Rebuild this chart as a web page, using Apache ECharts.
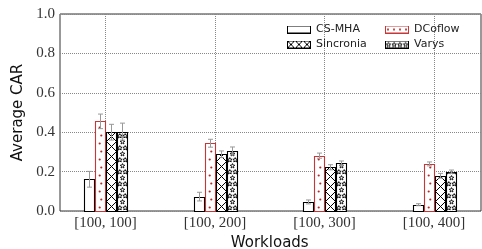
<!DOCTYPE html>
<html>
<head>
<meta charset="utf-8">
<script src="https://cdn.jsdelivr.net/npm/echarts@6/dist/echarts.min.js"></script>
<style>
html, body { margin: 0; padding: 0; background: #fff; }
#main { width: 482px; height: 249px; }
</style>
</head>
<body>
<div id="main"></div>
<script>
// data
var categories = ['[100, 100]', '[100, 200]', '[100, 300]', '[100, 400]'];
var seriesNames = ['CS-MHA', 'DCoflow', 'Sincronia', 'Varys'];
var csmha = [0.161, 0.073, 0.046, 0.032];
var csmhaErr = [0.040, 0.022, 0.010, 0.005];
var dcoflow = [0.455, 0.344, 0.281, 0.239];
var dcoflowErr = [0.037, 0.020, 0.013, 0.010];
var sincronia = [0.400, 0.288, 0.222, 0.179];
var sincroniaErr = [0.040, 0.017, 0.013, 0.012];
var varys = [0.403, 0.305, 0.242, 0.200];
var varysErr = [0.043, 0.020, 0.012, 0.008];

var BAR_W = 10;
var RED = '#c83737';

function toData(vals, errs) {
    var out = [];
    for (var i = 0; i < vals.length; i++) out.push([i, vals[i], errs[i]]);
    return out;
}

function starPoints(cx, cy, r1, r2) {
    var pts = [];
    for (var k = 0; k < 10; k++) {
        var r = k % 2 === 0 ? r1 : r2;
        var a = -Math.PI / 2 + k * Math.PI / 5;
        pts.push([cx + r * Math.cos(a), cy + r * Math.sin(a)]);
    }
    return pts;
}

// hatch elements for a box
function hatch(kind, L, T, W, B) {
    var els = [];
    if (kind === 'x') {
        for (var y0 = B; y0 > T - W; y0 -= W) {
            els.push({type: 'line', shape: {x1: L, y1: y0, x2: L + W, y2: y0 - W}, style: {stroke: '#000', lineWidth: 1}});
            els.push({type: 'line', shape: {x1: L, y1: y0 - W, x2: L + W, y2: y0}, style: {stroke: '#000', lineWidth: 1}});
        }
    } else if (kind === 'dot') {
        var n = 0;
        for (var y = B - 4; y > T; y -= 8) {
            els.push({type: 'circle', shape: {cx: L + W / 2 + (n % 2 ? 0.8 : -0.8), cy: y, r: 1.1}, style: {fill: '#b82525'}});
            n++;
        }
    } else if (kind === 'star') {
        var m = 0;
        for (var ys = B - 3.5; ys > T - 3; ys -= 6) {
            var xs = m % 2 ? [L + W / 2] : [L + 2.3, L + W - 2.3];
            for (var j = 0; j < xs.length; j++) {
                els.push({type: 'polygon', shape: {points: starPoints(xs[j], ys, 2.4, 1.1)},
                    style: {fill: '#fff', stroke: '#000', lineWidth: 0.9}});
            }
            m++;
        }
    }
    return els;
}

function makeRender(offset, kind, stroke) {
    return function (params, api) {
        var x = api.value(0), v = api.value(1), e = api.value(2);
        var base = api.coord([x, 0]);
        var top = api.coord([x, v]);
        var L = Math.round(base[0] + offset - BAR_W / 2) + 0.5;
        var B = Math.round(base[1]) + 0.5;
        var T = Math.round(top[1]) + 0.5;
        var box = {x: L, y: T, width: BAR_W, height: B - T};
        var children = [
            {type: 'rect', shape: box, style: {fill: '#fff', stroke: null}},
            {type: 'group', children: hatch(kind, L, T, BAR_W, B), clipPath: {type: 'rect', shape: box}},
            {type: 'rect', shape: box, style: {fill: null, stroke: stroke, lineWidth: 1.1}}
        ];
        var cx = Math.round(L + BAR_W / 2) - 0.5;
        var eT = api.coord([x, v + e])[1], eB = api.coord([x, v - e])[1];
        var ec = '#999';
        children.push({type: 'line', shape: {x1: cx, y1: eT, x2: cx, y2: eB}, style: {stroke: ec, lineWidth: 1}});
        children.push({type: 'line', shape: {x1: cx - 2.5, y1: eT, x2: cx + 2.5, y2: eT}, style: {stroke: ec, lineWidth: 1}});
        children.push({type: 'line', shape: {x1: cx - 2.5, y1: eB, x2: cx + 2.5, y2: eB}, style: {stroke: ec, lineWidth: 1}});
        return {type: 'group', children: children};
    };
}

// legend icons drawn on small canvases
function legendIcon(kind, stroke) {
    var c = document.createElement('canvas');
    c.width = 24; c.height = 8;
    var g = c.getContext('2d');
    g.fillStyle = '#fff';
    g.fillRect(0, 0, 24, 8);
    g.save();
    g.beginPath(); g.rect(0.5, 0.5, 23, 7); g.clip();
    if (kind === 'x') {
        g.strokeStyle = '#000'; g.lineWidth = 1;
        for (var x = 0; x < 24; x += 8) {
            g.beginPath(); g.moveTo(x, 0); g.lineTo(x + 8, 8); g.moveTo(x, 8); g.lineTo(x + 8, 0); g.stroke();
        }
    } else if (kind === 'dot') {
        g.fillStyle = '#b82525';
        for (var xd = 3; xd < 24; xd += 6) { g.beginPath(); g.arc(xd, 4, 1.1, 0, Math.PI * 2); g.fill(); }
    } else if (kind === 'star') {
        g.strokeStyle = '#000'; g.fillStyle = '#fff'; g.lineWidth = 0.9;
        for (var xs = 3.5; xs < 24; xs += 5.7) {
            var p = starPoints(xs, 4.3, 2.4, 1.1);
            g.beginPath(); g.moveTo(p[0][0], p[0][1]);
            for (var k = 1; k < p.length; k++) g.lineTo(p[k][0], p[k][1]);
            g.closePath(); g.fill(); g.stroke();
        }
    }
    g.restore();
    g.strokeStyle = stroke; g.lineWidth = 1;
    g.strokeRect(0.5, 0.5, 23, 7);
    return 'image://' + c.toDataURL();
}

var kinds = ['none', 'dot', 'x', 'star'];
var strokes = ['#000', RED, '#000', '#000'];
var offsets = [-16.5, -5.5, 5.5, 16.5];
var values = [toData(csmha, csmhaErr), toData(dcoflow, dcoflowErr), toData(sincronia, sincroniaErr), toData(varys, varysErr)];
var icons = [];
for (var i = 0; i < 4; i++) icons.push(legendIcon(kinds[i], strokes[i]));

var seriesObj = [];
for (var s = 0; s < 4; s++) {
    seriesObj.push({
        name: seriesNames[s],
        type: 'custom',
        xAxisIndex: 0,
        yAxisIndex: 0,
        renderItem: makeRender(offsets[s], kinds[s], strokes[s]),
        encode: {x: 0, y: 1},
        data: values[s],
        silent: true
    });
}

var legendText = {fontFamily: 'DejaVu Sans', fontSize: 11, color: '#222', lineHeight: 13};
var serifLabel = {fontFamily: 'Liberation Serif', fontSize: 15, color: '#333'};
var dotted = {color: '#888', type: [1, 1], width: 1};

var myChart = echarts.init(document.getElementById('main'));
var option = {
    animation: false,
    grid: [
        {left: 105.5, right: 48, top: 14, bottom: 38, outerBoundsMode: 'none', containLabel: false},
        {left: 60, right: 1, top: 14, bottom: 38, outerBoundsMode: 'none', containLabel: false,
            show: true, borderColor: '#333', borderWidth: 1, backgroundColor: 'transparent'}
    ],
    legend: [
        {left: 287, top: 23, orient: 'vertical', padding: 0, itemGap: 2, itemWidth: 24, itemHeight: 8, selectedMode: false,
            textStyle: legendText,
            data: [{name: seriesNames[0], icon: icons[0]}, {name: seriesNames[2], icon: icons[2]}]},
        {left: 385, top: 23, orient: 'vertical', padding: 0, itemGap: 2, itemWidth: 24, itemHeight: 8, selectedMode: false,
            textStyle: legendText,
            data: [{name: seriesNames[1], icon: icons[1]}, {name: seriesNames[3], icon: icons[3]}]}
    ],
    xAxis: [
        {gridIndex: 0, type: 'value', min: 0, max: 3, interval: 1,
            axisLine: {show: false}, axisTick: {show: false},
            axisLabel: Object.assign({margin: 5, formatter: function (v) { return categories[Math.round(v)]; }}, serifLabel),
            splitLine: {show: true, lineStyle: dotted},
            name: 'Workloads', nameLocation: 'middle', nameGap: 24,
            nameTextStyle: {fontFamily: 'DejaVu Sans', fontSize: 15, color: '#111'}},
        {gridIndex: 1, type: 'value', min: 0, max: 1, show: false}
    ],
    yAxis: [
        {gridIndex: 0, type: 'value', min: 0, max: 1, interval: 0.2, show: false, splitLine: {show: false}},
        {gridIndex: 1, type: 'value', min: 0, max: 1, interval: 0.2,
            axisLine: {show: false}, axisTick: {show: false},
            axisLabel: Object.assign({margin: 5, formatter: function (v) { return v.toFixed(1); }}, serifLabel),
            splitLine: {show: true, lineStyle: dotted},
            name: 'Average CAR', nameLocation: 'middle', nameGap: 24,
            nameTextStyle: {fontFamily: 'DejaVu Sans', fontSize: 15, color: '#111'}}
    ],
    series: seriesObj
};
myChart.setOption(option);
</script>
</body>
</html>
